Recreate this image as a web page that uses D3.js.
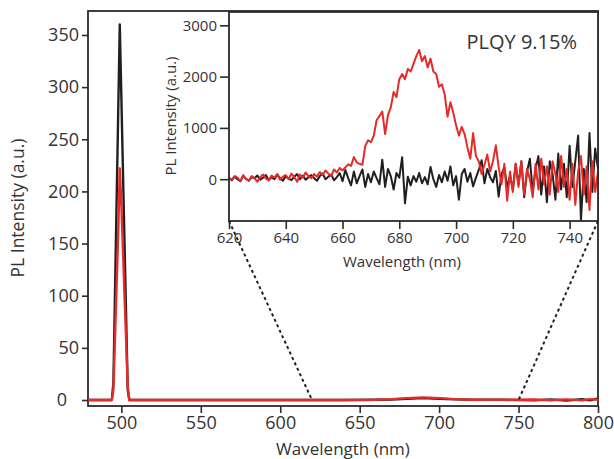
<!DOCTYPE html>
<html><head><meta charset="utf-8">
<script src="https://cdn.jsdelivr.net/npm/d3@7"></script>
<style>
html,body{margin:0;padding:0;background:#fff;}
svg text{font-family:"Open Sans",sans-serif;fill:#333;}
</style></head>
<body><svg id="c" width="614" height="459"></svg>
<script>
// ---- main spectrum data ----
const mainWl    = [479, 490, 494, 495, 496, 497, 498, 499, 500, 501, 502, 503, 504, 505, 520, 550, 600, 640, 660, 670, 680, 690, 700, 710, 720, 740, 760, 770, 780, 790, 795, 800];
const mainRed   = [0, 0, 0, 10, 60, 110, 160, 222, 188, 144, 100, 57, 13, 0, 0, 0, 0, 0, 0.3, 0.8, 1.8, 2.5, 1.8, 0.8, 0.3, 0.2, 0.5, -0.3, 0.6, -0.4, 0.8, 0.3];
const mainBlack = [0, 0, 0, 17, 103, 190, 275, 360, 290, 220, 150, 80, 10, 0, 0, 0, 0, 0, 0.2, 0.5, 1.2, 1.8, 1.2, 0.6, 0.3, 0.2, -0.4, 0.6, -0.5, 0.7, -0.3, 1.5];

// ---- inset data (620..750 nm, 1 nm step) ----
const insetWl = d3.range(620, 751, 1);
const insetRed = [
  20, -10, 60, 30, -40, 80, 0, -30, 60, 20,
  -50, 40, 90, 10, -20, 70, 30, 100, -10, 50,
  80, 0, 110, 40, -50, 90, 30, 130, 60, 20,
  100, 50, 140, 80, 170, 110, 60, 190, 130, 220,
  170, 230, 290, 260, 430, 330, 300, 280, 650, 760,
  720, 850, 1150, 1230, 1320, 880, 1250, 1400, 1700, 1600,
  1950, 2050, 1950, 2150, 2100, 2250, 2400, 2520, 2300, 2400,
  2180, 2350, 2100, 2050, 1800, 1850, 1650, 1220, 1500, 1300,
  1050, 850, 1020, 880, 620, 400, 900, 450, 350, 100,
  280, 480, 150, 350, 660, 240, -100, 300, -420, 150,
  -250, 300, -150, 350, -300, 200, 0, -350, 300, -200,
  400, -100, 250, -300, 350, 100, -250, 450, -150, 200,
  -400, 300, -500, 150, 450, -300, 250, -600, 350, -250,
  150];
const insetBlack = [
  30, -20, 50, 0, -40, 60, 10, -30, 40, 20,
  70, -10, 30, 80, -20, 40, 0, 90, 20, -30,
  60, 10, -20, 50, 100, 0, 70, -10, 40, 80,
  20, -30, 60, 110, 0, 50, 90, -20, 40, 120,
  -40, 180, 20, -120, 150, -80, 60, 190, -150, 100,
  -60, 150, 20, -100, 380, -150, 200, 60, -200, 120,
  30, 430, -470, 50, -120, 60, -50, 120, -80, 40,
  -100, 240, 0, -150, 80, -60, 150, -30, 250, -120,
  60, -400, 100, 200, -50, 120, -140, 30, 180, 370,
  -80, 200, 40, -60, 160, -340, 100, 230, -150, 60,
  -200, 300, -100, 350, -350, 150, 400, -250, 200, 450,
  -300, 250, -450, 350, 100, -400, 500, -200, 300, -350,
  650, -150, 350, 850, -800, 200, -450, 900, -250, 600,
  200];

const mainXTicks = [500, 550, 600, 650, 700, 750, 800];
const mainYTicks = [0, 50, 100, 150, 200, 250, 300, 350];
const insetXTicks = [620, 640, 660, 680, 700, 720, 740];
const insetYTicks = [0, 1000, 2000, 3000];
const zoomRange = [620, 750];
const annotation = "PLQY 9.15%";

const RED = "#e52a28", BLACK = "#231f20", AX = "#2b2b2b";
const svg = d3.select("#c");
svg.append("rect").attr("width", 614).attr("height", 459).attr("fill", "#fff");

// ---- main chart ----
const mx = d3.scaleLinear().domain([479, 800]).range([88, 598]);
const my = d3.scaleLinear().domain([-5.75, 373]).range([406, 11]);

const gx = svg.append("g").attr("transform", "translate(0,406)")
  .call(d3.axisBottom(mx).tickValues(mainXTicks).tickSize(7).tickPadding(3).tickFormat(d3.format("d")));
const gy = svg.append("g").attr("transform", "translate(88,0)")
  .call(d3.axisLeft(my).tickValues(mainYTicks).tickSize(6).tickPadding(3).tickFormat(d3.format("d")));
[gx, gy].forEach(g => {
  g.select(".domain").remove();
  g.selectAll("line").attr("stroke", AX).attr("stroke-width", 1.6);
  g.selectAll("text").style("font-size", "18px").attr("fill", "#333");
});
gy.selectAll(".tick").filter(d => d === 0).select("text").attr("dx", -12);

svg.append("rect").attr("x", 88).attr("y", 11).attr("width", 510).attr("height", 395)
  .attr("fill", "none").attr("stroke", AX).attr("stroke-width", 1.8);

const mainLine = (vals) => d3.line().x((d, i) => mx(mainWl[i])).y(d => my(d))(vals);
svg.append("path").attr("d", mainLine(mainBlack)).attr("fill", "none").attr("stroke", BLACK).attr("stroke-width", 2.4).attr("stroke-linejoin", "round");
svg.append("path").attr("d", mainLine(mainRed)).attr("fill", "none").attr("stroke", RED).attr("stroke-width", 2.4).attr("stroke-linejoin", "round");

svg.append("text").attr("x", 343).attr("y", 455).attr("text-anchor", "middle")
  .style("font-size", "17px").text("Wavelength (nm)");
svg.append("text").attr("transform", "translate(24,208) rotate(-90)").attr("text-anchor", "middle")
  .style("font-size", "17.5px").text("PL Intensity (a.u.)");

// ---- inset ----
const ix = d3.scaleLinear().domain(zoomRange).range([229, 598]);
const iy = d3.scaleLinear().domain([-815, 3260]).range([221, 12]);

// dotted connectors
[0, 1].forEach(k => {
  svg.append("line")
    .attr("x1", ix(zoomRange[k])).attr("y1", iy.range()[0])
    .attr("x2", mx(zoomRange[k])).attr("y2", my(0))
    .attr("stroke", BLACK).attr("stroke-width", 2).attr("stroke-dasharray", "3,3");
});

svg.append("rect").attr("x", 229).attr("y", 12).attr("width", 369).attr("height", 209).attr("fill", "#fff");

svg.append("clipPath").attr("id", "ic").append("rect").attr("x", 229).attr("y", 12).attr("width", 369).attr("height", 209);
const insetLine = (vals) => d3.line().x((d, i) => ix(insetWl[i])).y(d => iy(d))(vals);
const gi = svg.append("g").attr("clip-path", "url(#ic)");
gi.append("path").attr("d", insetLine(insetBlack)).attr("fill", "none").attr("stroke", BLACK).attr("stroke-width", 2).attr("stroke-linejoin", "round");
gi.append("path").attr("d", insetLine(insetRed)).attr("fill", "none").attr("stroke", RED).attr("stroke-width", 2).attr("stroke-linejoin", "round");

const gix = svg.append("g").attr("transform", "translate(0,221)")
  .call(d3.axisBottom(ix).tickValues(insetXTicks).tickSize(8).tickPadding(3).tickFormat(d3.format("d")));
const giy = svg.append("g").attr("transform", "translate(229,0)")
  .call(d3.axisLeft(iy).tickValues(insetYTicks).tickSize(9).tickPadding(3).tickFormat(d3.format("d")));
[gix, giy].forEach(g => {
  g.select(".domain").remove();
  g.selectAll("line").attr("stroke", AX).attr("stroke-width", 1.6);
  g.selectAll("text").style("font-size", "15px").attr("fill", "#333");
});
svg.append("rect").attr("x", 229).attr("y", 12).attr("width", 369).attr("height", 209)
  .attr("fill", "none").attr("stroke", AX).attr("stroke-width", 1.8);

svg.append("text").attr("x", 402).attr("y", 267).attr("text-anchor", "middle")
  .style("font-size", "15px").text("Wavelength (nm)");
svg.append("text").attr("transform", "translate(176,116) rotate(-90)").attr("text-anchor", "middle")
  .style("font-size", "15px").text("PL Intensity (a.u.)");
svg.append("text").attr("x", 577).attr("y", 49).attr("text-anchor", "end")
  .style("font-size", "20px").text(annotation);
</script></body></html>
